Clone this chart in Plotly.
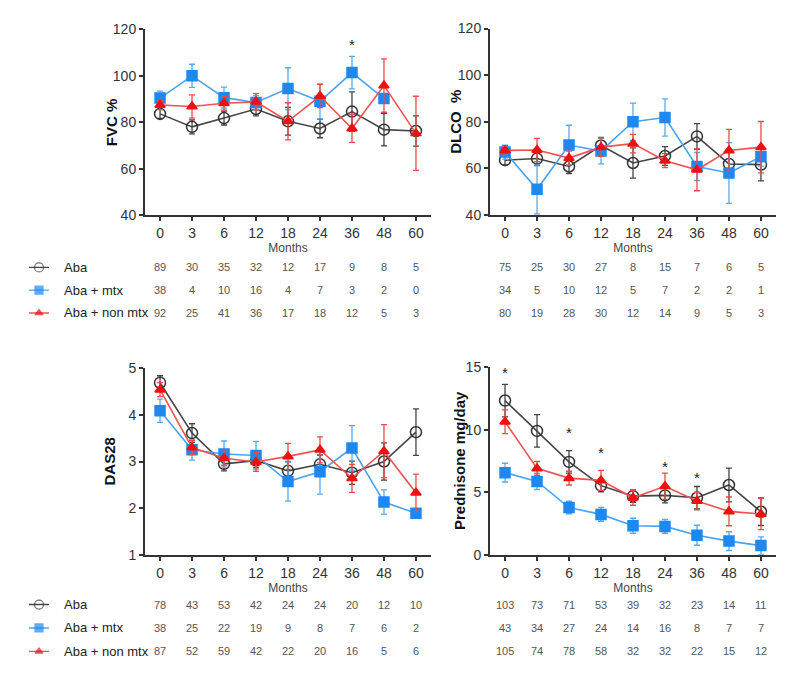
import plotly.graph_objects as go

months = ["0", "3", "6", "12", "18", "24", "36", "48", "60"]
groups = ["Aba", "Aba + mtx", "Aba + non mtx"]

# FVC %
fvc_aba = [83.6, 78.0, 81.8, 85.7, 80.4, 77.3, 84.6, 76.8, 76.2]
fvc_aba_err = [2.0, 3.0, 3.0, 3.0, 6.0, 4.0, 8.5, 7.0, 6.5]
fvc_mtx = [90.4, 100.0, 90.6, 88.5, 94.5, 89.0, 101.4, 90.2, None]
fvc_mtx_err = [3.0, 5.0, 4.5, 3.0, 9.0, 7.5, 7.0, 2.0, 0]
fvc_non = [87.4, 86.8, 88.2, 88.8, 80.4, 91.3, 77.3, 95.8, 75.2]
fvc_non_err = [2.0, 5.0, 3.0, 3.5, 8.0, 5.0, 6.0, 11.5, 16.0]
fvc_n = [[89, 30, 35, 32, 12, 17, 9, 8, 5],
         [38, 4, 10, 16, 4, 7, 3, 2, 0],
         [92, 25, 41, 36, 17, 18, 12, 5, 3]]
fvc_stars = {"36": 113.4}

# DLCO %
dlco_aba = [63.5, 64.2, 60.8, 69.8, 62.3, 65.3, 73.7, 61.9, 61.6]
dlco_aba_err = [2.0, 3.0, 3.0, 3.5, 6.5, 4.0, 5.5, 5.0, 7.0]
dlco_mtx = [67.0, 51.0, 70.0, 67.4, 80.0, 81.8, 60.8, 58.0, 65.0]
dlco_mtx_err = [3.0, 10.5, 8.5, 5.5, 8.0, 8.0, 6.0, 13.0, 4.0]
dlco_non = [67.7, 67.9, 64.4, 69.1, 70.6, 63.3, 59.4, 67.7, 69.1]
dlco_non_err = [2.0, 5.0, 3.0, 4.0, 4.0, 3.0, 9.0, 9.0, 11.0]
dlco_n = [[75, 25, 30, 27, 8, 15, 7, 6, 5],
          [34, 5, 10, 12, 5, 7, 2, 2, 1],
          [80, 19, 28, 30, 12, 14, 9, 5, 3]]

# DAS28
das_aba = [4.69, 3.61, 2.95, 3.02, 2.80, 2.94, 2.76, 3.00, 3.63]
das_aba_err = [0.15, 0.2, 0.15, 0.15, 0.2, 0.2, 0.25, 0.4, 0.5]
das_mtx = [4.09, 3.25, 3.16, 3.13, 2.57, 2.78, 3.29, 2.13, 1.89]
das_mtx_err = [0.25, 0.22, 0.28, 0.3, 0.42, 0.48, 0.48, 0.26, 0.08]
das_non = [4.54, 3.30, 3.07, 2.99, 3.11, 3.25, 2.64, 3.22, 2.33]
das_non_err = [0.15, 0.15, 0.15, 0.2, 0.28, 0.28, 0.3, 0.57, 0.4]
das_n = [[78, 43, 53, 42, 24, 24, 20, 12, 10],
         [38, 25, 22, 19, 9, 8, 7, 6, 2],
         [87, 52, 59, 42, 22, 20, 16, 5, 6]]

# Prednisone mg/day
pred_aba = [12.34, 9.91, 7.43, 5.53, 4.69, 4.75, 4.56, 5.58, 3.44]
pred_aba_err = [1.3, 1.3, 0.9, 0.5, 0.5, 0.6, 0.9, 1.35, 1.1]
pred_mtx = [6.57, 5.87, 3.78, 3.23, 2.32, 2.27, 1.56, 1.09, 0.73]
pred_mtx_err = [0.75, 0.65, 0.5, 0.55, 0.6, 0.55, 0.8, 0.75, 0.7]
pred_non = [10.64, 6.91, 6.13, 5.95, 4.56, 5.48, 4.30, 3.47, 3.26]
pred_non_err = [0.95, 0.55, 0.55, 0.8, 0.6, 1.05, 0.7, 1.15, 1.25]
pred_n = [[103, 73, 71, 53, 39, 32, 23, 14, 11],
          [43, 34, 27, 24, 14, 16, 8, 7, 7],
          [105, 74, 78, 58, 32, 32, 22, 15, 12]]
pred_stars = {"0": 14.6, "6": 9.8, "12": 8.2, "24": 7.1, "36": 6.2}

W, H = 800, 676
FONT = "Arial, Liberation Sans, Helvetica, sans-serif"
AXC = "#333333"
LINE_COL = ["#444444", "#4aa3f0", "#f05050"]
MK_COL = ["#333333", "#1e88f0", "#ee1111"]
ERR_COL = ["#444444", "#55aaf5", "#f04848"]
SYMS = ["circle-open", "square", "triangle-up"]
SIZES = [11, 10, 9]

def px_x(p):
    return p / W

idx = list(range(len(months)))

fig = go.Figure()

panels = [
    ("x", "y", [fvc_aba, fvc_mtx, fvc_non], [fvc_aba_err, fvc_mtx_err, fvc_non_err],
     fvc_n, fvc_stars, "FVC %", [40, 120], 20, (145, 431), (22, 212), "y5", 111),
    ("x2", "y2", [dlco_aba, dlco_mtx, dlco_non], [dlco_aba_err, dlco_mtx_err, dlco_non_err],
     dlco_n, {}, "DLCO  %", [40, 120], 20, (490, 776), (21, 212), "y5", 456),
    ("x3", "y3", [das_aba, das_mtx, das_non], [das_aba_err, das_mtx_err, das_non_err],
     das_n, {}, "DAS28", [1, 5], 1, (145, 431), (369, 560), "y6", 110),
    ("x4", "y4", [pred_aba, pred_mtx, pred_non], [pred_aba_err, pred_mtx_err, pred_non_err],
     pred_n, pred_stars, "Prednisone mg/day", [0, 15], 5, (490, 776), (368, 560), "y6", 459),
]

for (xa, ya, series, errs, counts, stars, ylabel, yr, dt, xd, yd, tab_y, tx) in panels:
    for g in range(3):
        xs = [i for i, v in zip(idx, series[g]) if v is not None]
        ys = [v for v in series[g] if v is not None]
        es = [e for v, e in zip(series[g], errs[g]) if v is not None]
        fig.add_trace(go.Scatter(
            x=xs, y=ys, xaxis=xa, yaxis=ya, mode="lines+markers",
            line=dict(color=LINE_COL[g], width=1.6),
            marker=dict(symbol=SYMS[g], size=SIZES[g], color=MK_COL[g],
                        line=dict(color=MK_COL[g], width=1.5)),
            error_y=dict(type="data", array=es, visible=True, color=ERR_COL[g],
                         thickness=1.3, width=3),
            showlegend=False, hoverinfo="skip"))
    axnum = xa[1:]
    lo = 1 - yd[1] / H
    hi = 1 - yd[0] / H
    fig.update_layout(**{
        "xaxis" + axnum: dict(domain=[px_x(xd[0]), px_x(xd[1])], range=[-0.47, 8.47],
                              tickvals=idx, ticktext=months, showline=True, linecolor=AXC,
                              linewidth=2, ticks="outside", ticklen=4, tickwidth=2, tickcolor=AXC,
                              showgrid=False, zeroline=False, anchor=ya,
                              tickfont=dict(size=14, color=AXC, family=FONT),
                              title=dict(text="Months", font=dict(size=12, color="#444", family=FONT),
                                         standoff=0)),
        "yaxis" + axnum: dict(domain=[lo, hi], range=yr, dtick=dt, showline=True, linecolor=AXC,
                              linewidth=2, ticks="outside", ticklen=4, tickwidth=2, tickcolor=AXC,
                              showgrid=False, zeroline=False, anchor=xa,
                              tickfont=dict(size=14, color=AXC, family=FONT)),
    })
    # y-axis title
    fig.add_annotation(x=px_x(tx), y=(lo + hi) / 2, xref="paper", yref="paper",
                       text="<b>" + ylabel + "</b>", textangle=-90, showarrow=False,
                       xanchor="center", yanchor="middle",
                       font=dict(size=15, color="#111", family=FONT))
    # count tables
    for g in range(3):
        for i, n in enumerate(counts[g]):
            fig.add_annotation(x=i, y=g, xref=xa, yref=tab_y, text=str(n), showarrow=False,
                               font=dict(size=11, color="#555", family=FONT))
    # significance stars
    for s, yv in stars.items():
        fig.add_annotation(x=months.index(s), y=yv, xref=xa, yref=ya, text="*", showarrow=False,
                           font=dict(size=15, color="#222", family=FONT))

# legend rows (top and bottom)
for lx, ly, rows in [("x5", "y5", (254, 324)), ("x6", "y6", (599, 671))]:
    for g in range(3):
        fig.add_trace(go.Scatter(
            x=[0, 1, 2], y=[g, g, g], xaxis=lx, yaxis=ly, mode="lines+markers",
            line=dict(color=LINE_COL[g], width=1.4),
            marker=dict(symbol=SYMS[g], size=[0, SIZES[g] - 2, 0], color=MK_COL[g],
                        line=dict(color=MK_COL[g], width=1.2)),
            showlegend=False, hoverinfo="skip"))
        fig.add_annotation(x=px_x(62), y=g, xref="paper", yref=ly, text=groups[g],
                           xanchor="left", showarrow=False,
                           font=dict(size=13, color="#222", family=FONT))
    n = lx[1:]
    fig.update_layout(**{
        "xaxis" + n: dict(domain=[px_x(29), px_x(49)], range=[0, 2], visible=False, anchor=ly),
        "yaxis" + n: dict(domain=[1 - rows[1] / H, 1 - rows[0] / H], range=[2.5, -0.5],
                          visible=False, anchor=lx),
    })

fig.update_layout(width=W, height=H, margin=dict(l=0, r=0, t=0, b=0),
                  plot_bgcolor="white", paper_bgcolor="white",
                  font=dict(family=FONT), showlegend=False)

fig.write_html("out.html")
